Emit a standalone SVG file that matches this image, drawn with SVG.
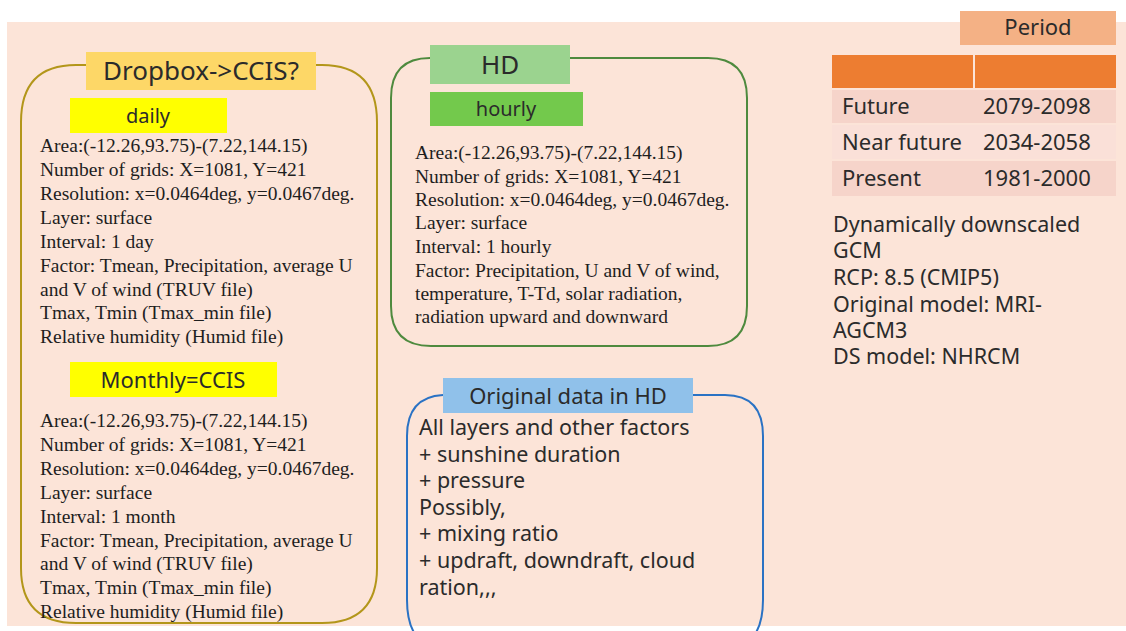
<svg xmlns="http://www.w3.org/2000/svg" width="1126" height="631" viewBox="0 0 1126 631">
<style>
.bg{fill:#fce4d8}
.frame{fill:none;stroke-width:2}
.ser{font-family:"Liberation Serif","Times New Roman",serif;font-size:19.5px;fill:#1e1e1e}
.sans{font-family:"Noto Sans","Noto Sans CJK JP",sans-serif;fill:#2b2b2b}
.lbl{text-anchor:middle}
.body{font-size:21.5px}
.tbl{font-size:22px}
</style>
<rect x="0" y="0" width="1126" height="631" fill="#ffffff"/>
<rect class="bg" x="7" y="22" width="1119" height="604"/>

<g id="dropbox">
<path class="frame" stroke="#b3961a" d="M86,65 L76,65 Q21,65 21,122 L21,568 Q21,623 76,623 L322,623 Q377,623 377,568 L377,122 Q377,65 322,65 L316,65"/>
<rect x="86" y="52" width="230" height="38" fill="#fdd767"/>
<text class="sans lbl" x="201" y="80" font-size="26" fill="#3a2c1c">Dropbox-&gt;CCIS?</text>
<rect x="70" y="98" width="157" height="35" fill="#ffff00"/>
<text class="sans lbl" x="148" y="123" font-size="20">daily</text>
<g class="ser">
<text x="40" y="152">Area:(-12.26,93.75)-(7.22,144.15)</text>
<text x="40" y="176">Number of grids: X=1081, Y=421</text>
<text x="40" y="200">Resolution: x=0.0464deg, y=0.0467deg.</text>
<text x="40" y="224">Layer: surface</text>
<text x="40" y="248">Interval: 1 day</text>
<text x="40" y="272">Factor: Tmean, Precipitation, average U</text>
<text x="40" y="296">and V of wind (TRUV file)</text>
<text x="40" y="319">Tmax, Tmin (Tmax_min file)</text>
<text x="40" y="343">Relative humidity (Humid file)</text>
</g>
<rect x="70" y="362" width="207" height="35" fill="#ffff00"/>
<text class="sans lbl" x="173" y="388" font-size="22">Monthly=CCIS</text>
<g class="ser">
<text x="40" y="427">Area:(-12.26,93.75)-(7.22,144.15)</text>
<text x="40" y="451">Number of grids: X=1081, Y=421</text>
<text x="40" y="475">Resolution: x=0.0464deg, y=0.0467deg.</text>
<text x="40" y="499">Layer: surface</text>
<text x="40" y="523">Interval: 1 month</text>
<text x="40" y="547">Factor: Tmean, Precipitation, average U</text>
<text x="40" y="570">and V of wind (TRUV file)</text>
<text x="40" y="594">Tmax, Tmin (Tmax_min file)</text>
<text x="40" y="618">Relative humidity (Humid file)</text>
</g>
</g>

<g id="hd">
<path class="frame" stroke="#4e8a3e" d="M430,58 Q391,58 391,98 L391,306 Q391,346 431,346 L708,346 Q747,346 747,306 L747,98 Q747,58 708,58 L570,58"/>
<rect x="430" y="45" width="140" height="39" fill="#9bd38f"/>
<text class="sans lbl" x="500" y="74" font-size="26">HD</text>
<rect x="430" y="92" width="153" height="34" fill="#73c94c"/>
<text class="sans lbl" x="506" y="116" font-size="20">hourly</text>
<g class="ser">
<text x="415" y="159">Area:(-12.26,93.75)-(7.22,144.15)</text>
<text x="415" y="183">Number of grids: X=1081, Y=421</text>
<text x="415" y="206">Resolution: x=0.0464deg, y=0.0467deg.</text>
<text x="415" y="229">Layer: surface</text>
<text x="415" y="253">Interval: 1 hourly</text>
<text x="415" y="277">Factor: Precipitation, U and V of wind,</text>
<text x="415" y="300">temperature, T-Td, solar radiation,</text>
<text x="415" y="323">radiation upward and downward</text>
</g>
</g>

<g id="original">
<path class="frame" stroke="#2a72c4" d="M443,395 Q407,397 407,436 L407,600 Q407,628 420,640 M750,640 Q763,628 763,600 L763,436 Q763,395 725,395 L693,395"/>
<rect x="443" y="378" width="250" height="35" fill="#90c1ea"/>
<text class="sans lbl" x="568" y="404" font-size="22">Original data in HD</text>
<g class="sans body">
<text x="419" y="435">All layers and other factors</text>
<text x="419" y="462">+ sunshine duration</text>
<text x="419" y="488">+ pressure</text>
<text x="419" y="515">Possibly,</text>
<text x="419" y="541">+ mixing ratio</text>
<text x="419" y="568">+ updraft, downdraft, cloud</text>
<text x="419" y="595">ration,,,</text>
</g>
</g>

<g id="period">
<rect x="960" y="11" width="156" height="34" fill="#f4b185"/>
<text class="sans lbl" x="1038" y="35" font-size="22">Period</text>
<rect x="832" y="55" width="141" height="33" fill="#ed7d31"/>
<rect x="975" y="55" width="141" height="33" fill="#ed7d31"/>
<rect x="832" y="90" width="284" height="33" fill="#f6d4ca"/>
<rect x="832" y="125" width="284" height="34" fill="#fae0d8"/>
<rect x="832" y="161" width="284" height="35" fill="#f6d4ca"/>
<g class="sans tbl">
<text x="842" y="114">Future</text>
<text x="983" y="114">2079-2098</text>
<text x="842" y="150">Near future</text>
<text x="983" y="150">2034-2058</text>
<text x="842" y="186">Present</text>
<text x="983" y="186">1981-2000</text>
</g>
</g>

<g id="notes" class="sans" font-size="21.5">
<text x="833" y="232">Dynamically downscaled</text>
<text x="833" y="258">GCM</text>
<text x="833" y="285">RCP: 8.5 (CMIP5)</text>
<text x="833" y="312">Original model: MRI-</text>
<text x="833" y="338">AGCM3</text>
<text x="833" y="364">DS model: NHRCM</text>
</g>

<g id="connectors"></g>
</svg>
